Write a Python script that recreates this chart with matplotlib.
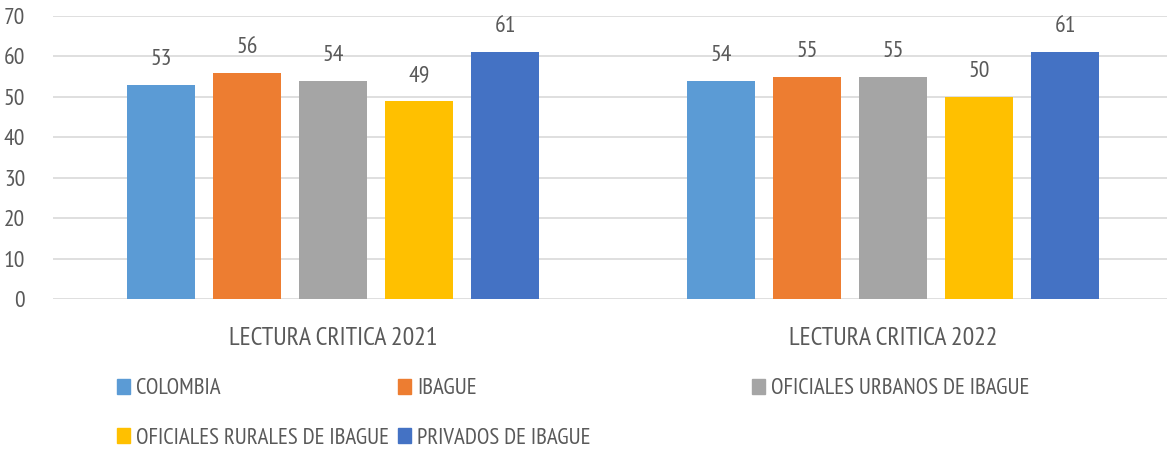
import matplotlib
matplotlib.use("Agg")
import matplotlib.pyplot as plt
import numpy as np
from matplotlib.patches import Patch

categories = ["LECTURA CRITICA 2021", "LECTURA CRITICA 2022"]
series_names = ["COLOMBIA", "IBAGUE", "OFICIALES URBANOS DE IBAGUE",
                "OFICIALES RURALES DE IBAGUE", "PRIVADOS DE IBAGUE"]
colombia = [53, 54]
ibague = [56, 55]
urbanos = [54, 55]
rurales = [49, 50]
privados = [61, 61]
series_values = [colombia, ibague, urbanos, rurales, privados]
colors = ["#5B9BD5", "#ED7D31", "#A5A5A5", "#FFC000", "#4472C4"]
yticks = [0, 10, 20, 30, 40, 50, 60, 70]

plt.rcParams['font.family'] = ['PT Sans Narrow', 'Archivo Narrow', 'DejaVu Sans']
txt = "#595959"
FS_NUM = 17
FS_CAT = 18.5
FS_LEG = 16.5

W, H = 1167, 449
fig = plt.figure(figsize=(W / 100, H / 100), dpi=100)
x0 = 53 / W
ax = fig.add_axes([x0, (H - 299) / H, 1 - x0, (299 - 16) / H])

x = np.arange(len(categories))
step = 0.1536
width = 0.121
for i, (name, vals, c) in enumerate(zip(series_names, series_values, colors)):
    bars = ax.bar(x + (i - 2) * step, vals, width, color=c, label=name, zorder=3)
    for b, v in zip(bars, vals):
        ax.text(b.get_x() + b.get_width() / 2, v + 3.7, str(v), ha="center",
                va="bottom", fontsize=FS_NUM, color=txt)

ax.set_xlim(-0.5, -0.5 + (W - 53) / 560)
ax.set_ylim(0, 70)
ax.set_yticks(yticks)
ax.set_yticklabels([str(t) for t in yticks], fontsize=FS_NUM, color=txt)
ax.set_xticks(x)
ax.set_xticklabels(categories, fontsize=FS_CAT, color=txt)
ax.tick_params(axis="both", length=0)
ax.tick_params(axis="x", pad=20)
ax.tick_params(axis="y", pad=20)
ax.grid(axis="y", color="#D9D9D9", linewidth=1.2, zorder=0)
for s in ax.spines.values():
    s.set_visible(False)

# legend entries placed like the Excel layout
positions = [(117, 389), (398, 389), (752, 389), (117, 438), (398, 438)]
for name, c, (px, py) in zip(series_names, colors, positions):
    leg = fig.legend(handles=[Patch(color=c, label=name)], loc="center left",
                     bbox_to_anchor=(px / W, (H - py) / H), frameon=False,
                     fontsize=FS_LEG, handlelength=0.58, handleheight=0.58,
                     handletextpad=0.25, borderpad=0, borderaxespad=0)
    for t in leg.get_texts():
        t.set_color(txt)

fig.savefig("out.png", dpi=100)
